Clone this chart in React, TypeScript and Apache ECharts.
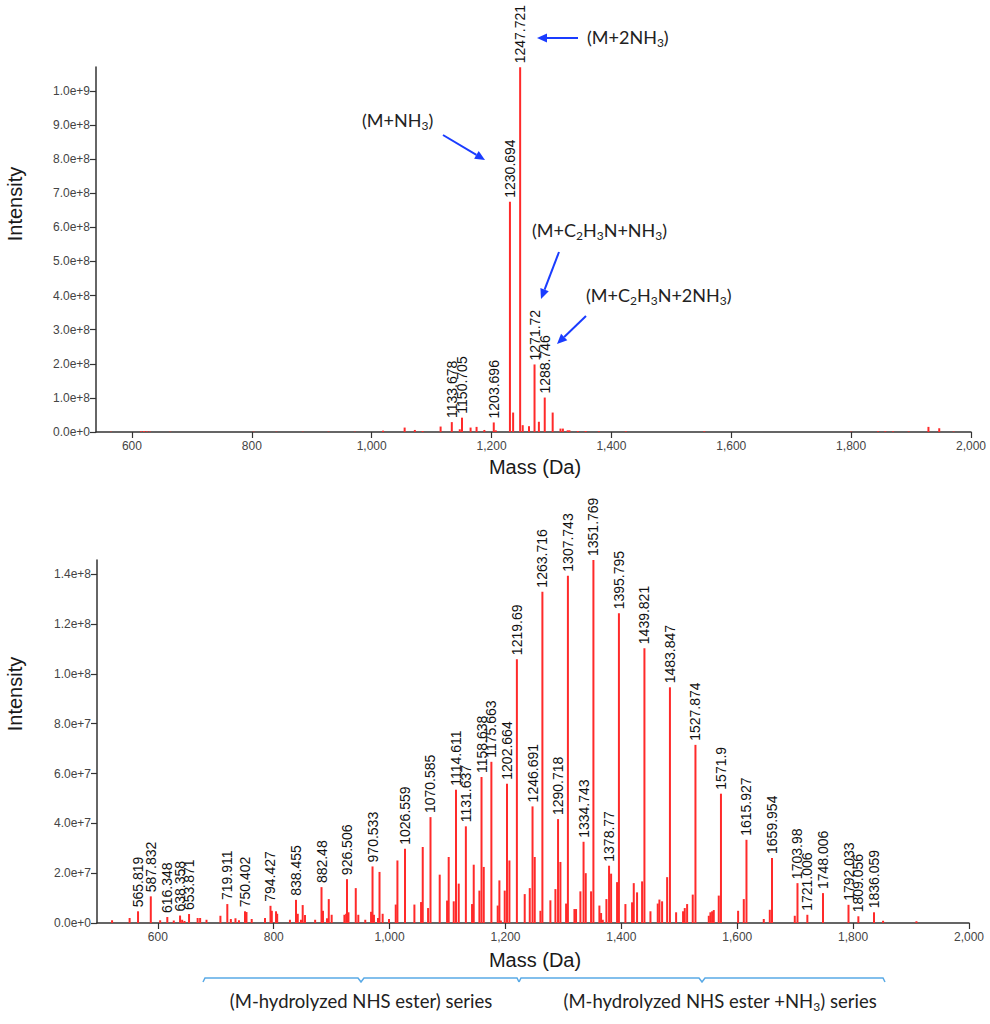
import React, { useEffect, useRef } from 'react';
import * as echarts from 'echarts';

// ---------- Top spectrum ----------
const topLabeledMass = [1133.678, 1150.705, 1203.696, 1230.694, 1247.721, 1271.72, 1288.746];
const topLabeledIntensity = [2.9e7, 4.2e7, 2.8e7, 6.75e8, 1.069e9, 1.98e8, 1.01e8];
const topMinorMass = [565, 615, 620, 625, 630, 664, 803, 841, 885, 928, 972, 1019, 1055, 1072, 1085, 1115, 1147, 1165, 1175, 1188, 1207, 1236, 1252, 1262.5, 1279, 1302, 1315, 1319, 1327, 1330, 1344, 1357, 1379, 1424, 1555, 1800, 1845, 1857, 1870, 1896, 1929, 1947, 1971];
const topMinorIntensity = [1e6, 2e6, 3e6, 2e6, 1.5e6, 1e6, 1e6, 1e6, 1e6, 1e6, 1e6, 4e6, 1.3e7, 6e6, 3e6, 1.6e7, 8e6, 1.3e7, 1.5e7, 6e6, 5e6, 5.7e7, 2e7, 1.7e7, 3e7, 5.7e7, 1e7, 1e7, 5e6, 5e6, 3e6, 3e6, 2e6, 2e6, 2e6, 1e6, 2e6, 2e6, 2e6, 1.5e6, 1.5e7, 1.1e7, 1.5e6];

// ---------- Bottom spectrum ----------
const botLabeledMass = [565.819, 587.832, 616.348, 638.358, 653.871, 719.911, 750.402, 794.427, 838.455, 882.48, 926.506, 970.533, 1026.559, 1070.585, 1114.611, 1131.637, 1158.638, 1175.663, 1202.664, 1219.69, 1246.691, 1263.716, 1290.718, 1307.743, 1334.743, 1351.769, 1378.77, 1395.795, 1439.821, 1483.847, 1527.874, 1571.9, 1615.927, 1659.954, 1703.98, 1721.006, 1748.006, 1792.033, 1809.056, 1836.059];
const botLabeledIntensity = [4.7e6, 10.7e6, 2.4e6, 3.0e6, 3.6e6, 7.6e6, 4.7e6, 6.9e6, 9.3e6, 14.4e6, 17.6e6, 22.7e6, 29.8e6, 42.5e6, 53.5e6, 38.8e6, 58.6e6, 64.7e6, 55.9e6, 105.9e6, 46.8e6, 133e6, 41.7e6, 139.4e6, 32.6e6, 145.7e6, 23e6, 124.3e6, 110.3e6, 94.6e6, 71.5e6, 51.9e6, 33.4e6, 26.1e6, 16.0e6, 3.3e6, 12.0e6, 7.3e6, 2.7e6, 4.3e6];
const botMinorMass = [521, 551.3, 604, 627.5, 642, 646, 668.7, 673, 684, 708, 726, 734, 740, 753, 762, 785, 796.7, 804, 806, 828, 841.5, 847, 850, 854, 871.5, 885, 892, 895, 900, 922, 925, 929, 941.6, 946, 958, 968, 973, 980, 982.6, 988, 999, 1010.6, 1013.5, 1042.8, 1054.3, 1057.2, 1066.4, 1086.5, 1099.2, 1102, 1110.7, 1119.3, 1142.3, 1145.2, 1155, 1162.5, 1186.6, 1189.5, 1192, 1198.7, 1206.8, 1233.2, 1241.9, 1250.5, 1260.3, 1277.5, 1286.2, 1294.8, 1304.6, 1319, 1321.8, 1329.3, 1338.5, 1347.7, 1362.1, 1365, 1367.9, 1374.2, 1382.3, 1392.6, 1407, 1418.5, 1421.4, 1427.1, 1435.8, 1450.2, 1462.8, 1465.7, 1470.3, 1479, 1494.5, 1506.5, 1509.4, 1513.5, 1523.2, 1550.9, 1553.7, 1556.6, 1559.5, 1568.1, 1601.5, 1611.3, 1645.8, 1656.2, 1699.3, 1851.7, 1909.3];
const botMinorIntensity = [1.1e6, 2.0e6, 1.1e6, 1e6, 1.3e6, 0.8e6, 2e6, 2e6, 1.3e6, 2.9e6, 1.6e6, 1.9e6, 1.1e6, 4.4e6, 1.6e6, 2e6, 4.9e6, 4.7e6, 3.7e6, 1.3e6, 3.7e6, 1.3e6, 7.2e6, 3.2e6, 1.3e6, 4.9e6, 1.9e6, 9.6e6, 3.3e6, 3.3e6, 3.7e6, 4.3e6, 14.0e6, 3.3e6, 1.3e6, 4.5e6, 3.3e6, 2e6, 20.5e6, 3.7e6, 1.6e6, 7.4e6, 25.1e6, 7.4e6, 8.4e6, 30.5e6, 6e6, 19.4e6, 9e6, 26.5e6, 8.7e6, 15.8e6, 7.6e6, 23.4e6, 13e6, 22.5e6, 7e6, 17.1e6, 1e6, 13e6, 25.1e6, 11.6e6, 14e6, 26.5e6, 4.9e6, 9.1e6, 13.6e6, 24.5e6, 7.8e6, 5.6e6, 5.6e6, 12.7e6, 20e6, 12.7e6, 7e6, 4e6, 1.3e6, 9.6e6, 19.8e6, 16.4e6, 7.6e6, 8.3e6, 16e6, 12.3e6, 16.7e6, 4.7e6, 7.8e6, 9.4e6, 8.7e6, 18.4e6, 4.3e6, 4.7e6, 6e6, 7.6e6, 11.4e6, 2.9e6, 4.3e6, 4.7e6, 5.2e6, 11e6, 4.9e6, 9.6e6, 1.6e6, 5.3e6, 2.9e6, 0.9e6, 0.7e6];

const xTitle = 'Mass (Da)';
const yTitle = 'Intensity';

const RED = '#ff2a2a';
const BLUE = '#1a3cff';
const AXIS = '#333333';
const SANS = '"Liberation Sans", Arial, sans-serif';
const ANNOT = 'Lato, "Open Sans", sans-serif';

function buildData(lm: number[], li: number[], mm: number[], mi: number[]) {
  const out: any[] = [];
  mm.forEach((m, i) => out.push({ value: [m, mi[i]], label: { show: false } }));
  lm.forEach((m, i) => out.push({ value: [m, li[i]], label: { show: true } }));
  return out;
}

const peakLabel = {
  position: 'top',
  rotate: 90,
  align: 'left',
  verticalAlign: 'middle',
  distance: 4,
  fontSize: 14,
  color: '#111',
  fontFamily: SANS,
  formatter: (p: any) => String(p.value[0]),
};

function xAxisCfg(grid: number, min: number) {
  return {
    type: 'value', gridIndex: grid, min, max: 2000, splitNumber: 7,
    axisLine: { show: true, lineStyle: { color: AXIS, width: 1.5 } },
    axisTick: { show: true, length: 6, lineStyle: { color: AXIS, width: 1.2 } },
    axisLabel: {
      showMinLabel: false, margin: 8, color: '#444', fontSize: 12, fontFamily: SANS,
      formatter: (v: number) => v.toLocaleString('en-US'),
    },
    splitLine: { show: false },
  };
}

function yAxisCfg(grid: number, max: number, interval: number) {
  return {
    type: 'value', gridIndex: grid, min: 0, max, interval,
    axisLine: { show: true, lineStyle: { color: AXIS, width: 1.5 } },
    axisTick: { show: true, length: 6, lineStyle: { color: AXIS, width: 1.2 } },
    axisLabel: {
      showMaxLabel: false, margin: 6, color: '#444', fontSize: 12, fontFamily: SANS,
      formatter: (v: number) => v.toExponential(1),
    },
    splitLine: { show: false },
  };
}

function arrow(x1: number, y1: number, x2: number, y2: number) {
  const a = Math.atan2(y2 - y1, x2 - x1);
  const L = 10, W = 4.5;
  const bx = x2 - L * Math.cos(a), by = y2 - L * Math.sin(a);
  const px = -Math.sin(a) * W, py = Math.cos(a) * W;
  return [
    { type: 'line', shape: { x1, y1, x2: bx, y2: by }, style: { stroke: BLUE, lineWidth: 2 }, silent: true },
    { type: 'polygon', shape: { points: [[x2, y2], [bx + px, by + py], [bx - px, by - py]] }, style: { fill: BLUE }, silent: true },
  ];
}

const rich = {
  n: { fontSize: 18, lineHeight: 22, fontFamily: ANNOT, color: '#222' },
  s: { fontSize: 12, lineHeight: 22, verticalAlign: 'bottom', fontFamily: ANNOT, color: '#222' },
};

const richBottom = {
  n: { fontSize: 18.5, lineHeight: 22, fontFamily: ANNOT, color: '#222' },
  s: { fontSize: 12, lineHeight: 22, verticalAlign: 'bottom', fontFamily: ANNOT, color: '#222' },
};

function annot(x: number, y: number, text: string, r: any = rich, align = 'left') {
  return {
    type: 'text', x, y, silent: true,
    style: { text, rich: r, align, verticalAlign: 'middle', fontFamily: ANNOT, fontSize: 18, fill: '#222' },
  };
}

function brace(x0: number, xm: number, x1: number, y: number) {
  return {
    type: 'polyline', silent: true,
    shape: { points: [[x0, y + 4], [x0 + 2, y], [xm - 3, y], [xm, y + 4], [xm + 3, y], [x1 - 2, y], [x1, y + 4]] },
    style: { stroke: '#5aaae6', lineWidth: 1.5, fill: null },
  };
}

export default function App() {
  const ref = useRef<HTMLDivElement>(null);
  useEffect(() => {
    const chart = echarts.init(ref.current!, null, { renderer: 'svg' });
    const option: any = {
      animation: false,
      backgroundColor: '#ffffff',
      grid: [
        { left: 96, right: 19, top: 67, bottom: 592 },
        { left: 97, right: 21, top: 560, bottom: 101 },
      ],
      xAxis: [xAxisCfg(0, 540), xAxisCfg(1, 495)],
      yAxis: [yAxisCfg(0, 1.07e9, 1e8), yAxisCfg(1, 1.457e8, 2e7)],
      series: [
        {
          type: 'bar', xAxisIndex: 0, yAxisIndex: 0, barWidth: 2,
          itemStyle: { color: RED },
          label: peakLabel,
          data: buildData(topLabeledMass, topLabeledIntensity, topMinorMass, topMinorIntensity),
        },
        {
          type: 'bar', xAxisIndex: 1, yAxisIndex: 1, barWidth: 2,
          itemStyle: { color: RED },
          label: peakLabel,
          data: buildData(botLabeledMass, botLabeledIntensity, botMinorMass, botMinorIntensity),
        },
      ],
      graphic: [
        { type: 'text', x: 15, y: 204, rotation: Math.PI / 2, silent: true, style: { text: yTitle, align: 'center', verticalAlign: 'middle', fontSize: 20, fontFamily: SANS, fill: '#1a1a1a' } },
        { type: 'text', x: 15, y: 694, rotation: Math.PI / 2, silent: true, style: { text: yTitle, align: 'center', verticalAlign: 'middle', fontSize: 20, fontFamily: SANS, fill: '#1a1a1a' } },
        { type: 'text', x: 535, y: 467, silent: true, style: { text: xTitle, align: 'center', verticalAlign: 'middle', fontSize: 20, fontFamily: SANS, fill: '#1a1a1a' } },
        { type: 'text', x: 535, y: 960, silent: true, style: { text: xTitle, align: 'center', verticalAlign: 'middle', fontSize: 20, fontFamily: SANS, fill: '#1a1a1a' } },
        annot(587, 37, '{n|(M+2NH}{s|3}{n|)}'),
        annot(362, 120, '{n|(M+NH}{s|3}{n|)}'),
        annot(532, 230, '{n|(M+C}{s|2}{n|H}{s|3}{n|N+NH}{s|3}{n|)}'),
        annot(586, 295, '{n|(M+C}{s|2}{n|H}{s|3}{n|N+2NH}{s|3}{n|)}'),
        ...arrow(578, 38, 537, 38),
        ...arrow(443, 135, 485, 160),
        ...arrow(559, 252, 541, 299),
        ...arrow(586, 316, 557, 344),
        brace(203, 361, 519, 978),
        brace(519, 702, 885, 978),
        annot(361, 1001, '{n|(M-hydrolyzed NHS ester) series}', richBottom, 'center'),
        annot(720, 1001, '{n|(M-hydrolyzed NHS ester +NH}{s|3}{n|) series}', richBottom, 'center'),
      ],
    };
    chart.setOption(option);
    return () => chart.dispose();
  }, []);
  return <div ref={ref} style={{ position: 'fixed', left: 0, top: 0, width: 990, height: 1024, background: '#fff' }} />;
}
